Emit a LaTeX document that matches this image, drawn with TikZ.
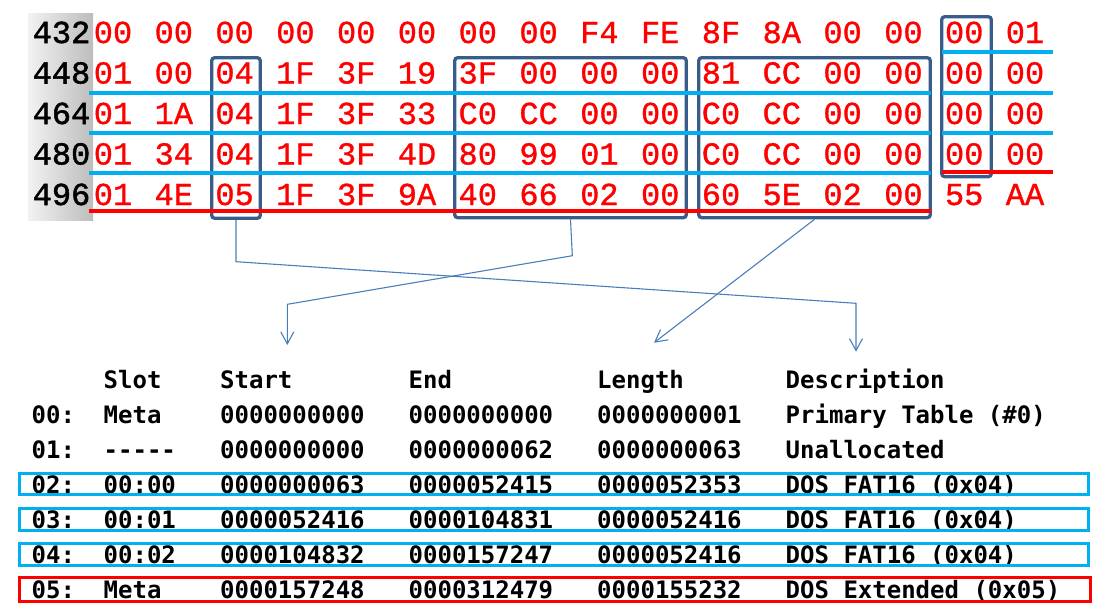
\documentclass[tikz,border=0pt]{standalone}
\usepackage{fontspec}
\usetikzlibrary{arrows.meta}
\newfontfamily\hexfont[FakeBold=1.0]{Liberation Mono}
\newfontfamily\labfont[FakeBold=1.6]{Liberation Mono}
\newfontfamily\tabfont{DejaVu Sans Mono}
\definecolor{hexred}{RGB}{255,0,0}
\definecolor{boxblue}{RGB}{56,93,138}
\definecolor{lineblue}{RGB}{0,176,240}
\definecolor{arrowblue}{RGB}{74,126,187}
\tikzset{
  hexbyte/.style={font={\hexfont\fontsize{32}{32}\selectfont}, text=hexred, inner sep=0pt, anchor=base},
  rowlabel/.style={font={\labfont\fontsize{32}{32}\selectfont}, text=black, inner sep=0pt, anchor=base east},
  fieldbox/.style={draw=boxblue, line width=3.3pt, rounded corners=3pt, inner sep=0pt},
  uline/.style={line width=4.3pt},
  tabtext/.style={font={\tabfont\bfseries\fontsize{24}{24}\selectfont}, text=black, inner sep=0pt, anchor=base west},
  conn/.style={draw=arrowblue, line width=1.1pt},
  connarrow/.style={conn, -{Straight Barb[length=12pt,width=13pt,line width=1.1pt]}},
  rowframe/.style={line width=3pt},
}
\begin{document}
\begin{tikzpicture}[x=1pt,y=-1pt]
\useasboundingbox (0,0) rectangle (1107,614);
% gray offset column
\shade[left color=black!5, right color=black!26] (28,13) rectangle (93,220);
% hex rows
\foreach \r/\lab/\bytes in {
  0/432/{00,00,00,00,00,00,00,00,F4,FE,8F,8A,00,00,00,01},
  1/448/{01,00,04,1F,3F,19,3F,00,00,00,81,CC,00,00,00,00},
  2/464/{01,1A,04,1F,3F,33,C0,CC,00,00,C0,CC,00,00,00,00},
  3/480/{01,34,04,1F,3F,4D,80,99,01,00,C0,CC,00,00,00,00},
  4/496/{01,4E,05,1F,3F,9A,40,66,02,00,60,5E,02,00,55,AA}} {
  \node[rowlabel] (lab-\r) at (90.5,{43+40.5*\r}) {\lab};
  \foreach \b [count=\i from 0] in \bytes {
    \node[hexbyte] (b-\r-\i) at ({113+60.8*\i},{43+40.5*\r}) {\b};
  }
}
% field boxes
\node[fieldbox, minimum width=48.6pt, minimum height=160.6pt] (boxA) at (236,138) {};
\node[fieldbox, minimum width=231.6pt, minimum height=160pt] (boxB) at (570.5,137.7) {};
\node[fieldbox, minimum width=231.6pt, minimum height=160pt] (boxC) at (814.5,137.7) {};
\node[fieldbox, minimum width=49.6pt, minimum height=160pt] (boxD) at (966.5,96.7) {};
% entry underlines
\foreach \y in {93,133,173} \draw[uline, lineblue] (89.3,\y) -- (931,\y);
\draw[uline, hexred] (89.3,211) -- (931,211);
\foreach \y in {52.3,93,133} \draw[uline, lineblue] (942,\y) -- (1053,\y);
\draw[uline, hexred] (942,172) -- (1053,172);
% table
\node[tabtext] (h-slot) at (103.5,388) {Slot};
\node[tabtext] (h-start) at (220,388) {Start};
\node[tabtext] (h-end) at (408.5,388) {End};
\node[tabtext] (h-len) at (597,388) {Length};
\node[tabtext] (h-desc) at (785.5,388) {Description};
\foreach \k/\a/\b/\c/\d/\e/\f in {
  0/00:/Meta/0000000000/0000000000/0000000001/Primary Table (\#0),
  1/01:/-{}-{}-{}-{}-/0000000000/0000000062/0000000063/Unallocated,
  2/02:/00:00/0000000063/0000052415/0000052353/DOS FAT16 (0x04),
  3/03:/00:01/0000052416/0000104831/0000052416/DOS FAT16 (0x04),
  4/04:/00:02/0000104832/0000157247/0000052416/DOS FAT16 (0x04),
  5/05:/Meta/0000157248/0000312479/0000155232/DOS Extended (0x05)} {
  \node[tabtext] (r\k-1) at (31.5,{423.1+35.1*\k}) {\a};
  \node[tabtext] (r\k-2) at (103.5,{423.1+35.1*\k}) {\b};
  \node[tabtext] (r\k-3) at (220,{423.1+35.1*\k}) {\c};
  \node[tabtext] (r\k-4) at (408.5,{423.1+35.1*\k}) {\d};
  \node[tabtext] (r\k-5) at (597,{423.1+35.1*\k}) {\e};
  \node[tabtext] (r\k-6) at (785.5,{423.1+35.1*\k}) {\f};
}
\draw[rowframe, draw=lineblue] (19.5,473.2) rectangle (1088.5,494.5);
\draw[rowframe, draw=lineblue] (19.5,508.2) rectangle (1088.5,530.2);
\draw[rowframe, draw=lineblue] (19.5,543.2) rectangle (1088.5,565.2);
\draw[rowframe, draw=hexred] (19.5,577.5) rectangle (1090.2,601.2);
% connectors
\coordinate (a1k1) at (236,261.7);
\coordinate (a1k2) at (856,303.3);
\coordinate (a1end) at (856,351.7);
\coordinate (a2k1) at (572.3,255.7);
\coordinate (a2k2) at (287.3,304.3);
\coordinate (a2end) at (287.3,345);
\coordinate (a3end) at (654,342.7);
\draw[connarrow] (boxA.south) -- (a1k1) -- (a1k2) -- (a1end);
\draw[connarrow] (boxB.south) -- (a2k1) -- (a2k2) -- (a2end);
\draw[connarrow] (boxC.south) -- (a3end);
\end{tikzpicture}
\end{document}
